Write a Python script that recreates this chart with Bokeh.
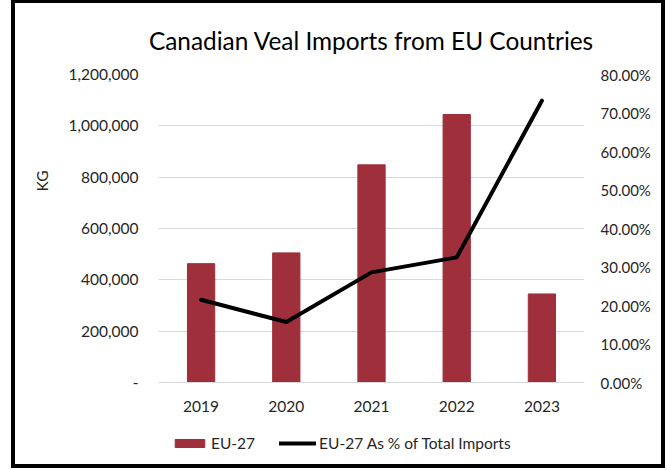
from bokeh.plotting import figure
from bokeh.models import (ColumnDataSource, Range1d, LinearAxis, Legend, LegendItem, Title,
                          NumeralTickFormatter, CustomJSTickFormatter, FixedTicker)
from bokeh.embed import file_html
from bokeh.resources import INLINE

years = ["2019", "2020", "2021", "2022", "2023"]
eu27_kg = [463000, 505000, 848000, 1044000, 345000]
eu27_pct = [0.215, 0.157, 0.286, 0.325, 0.732]

left_ticks = [0, 200000, 400000, 600000, 800000, 1000000, 1200000]
right_ticks = [0.0, 0.1, 0.2, 0.3, 0.4, 0.5, 0.6, 0.7, 0.8]

FONT = "Lato"
TXT = "#262626"

# frame: 308 px for the value area, 80 px below zero for category labels + legend
PLOT_PX, BELOW_PX = 308, 80
KG_MAX, PCT_MAX = 1200000, 0.8
frac = BELOW_PX / PLOT_PX

src = ColumnDataSource(dict(year=years, kg=eu27_kg, pct=eu27_pct))

p = figure(x_range=years, y_range=Range1d(-KG_MAX * frac, KG_MAX),
           frame_width=426, frame_height=PLOT_PX + BELOW_PX,
           output_backend="svg", toolbar_location=None,
           min_border_left=143, min_border_right=77, min_border_top=71, min_border_bottom=2)
p.styles = {"border": "4px solid black", "border-top-width": "3px",
            "margin-left": "11px", "margin-top": "0px"}
p.outline_line_color = None
p.background_fill_color = "white"
p.border_fill_color = "white"

p.title.text = "Canadian Veal Imports from EU Countries"
p.title.align = "center"
p.title.text_font = FONT
p.title.text_font_size = "24.4px"
p.title.text_font_style = "normal"
p.title.text_color = "black"
p.title.standoff = 40

p.extra_y_ranges = {"pct": Range1d(-PCT_MAX * frac, PCT_MAX)}

bars = p.vbar(x="year", top="kg", width=0.32, source=src, fill_color="#9e2f3b",
              line_color="#9e2f3b")
ln = p.line(x="year", y="pct", source=src, y_range_name="pct", line_color="black",
            line_width=4, line_join="round", line_cap="round")

# left axis
la = p.yaxis[0]
la.ticker = FixedTicker(ticks=left_ticks)
la.formatter = CustomJSTickFormatter(code="""
if (tick == 0) { return '-'; }
return tick.toLocaleString('en-US');
""")
la.axis_line_color = None
la.major_tick_line_color = None
la.minor_tick_line_color = None
la.major_tick_out = 0
la.minor_tick_out = 0
la.major_label_text_font = FONT
la.major_label_text_font_size = "15.5px"
la.major_label_text_color = TXT
la.major_label_standoff = 20

kg_title = Title(text="KG", align="right", offset=96, standoff=29,
                 text_font=FONT, text_font_size="15.5px", text_font_style="normal",
                 text_color=TXT)
p.add_layout(kg_title, "left")

ra = LinearAxis(y_range_name="pct", ticker=FixedTicker(ticks=right_ticks),
                formatter=NumeralTickFormatter(format="0.00%"))
ra.axis_line_color = None
ra.major_tick_line_color = None
ra.minor_tick_line_color = None
ra.major_tick_out = 0
ra.minor_tick_out = 0
ra.major_label_text_font = FONT
ra.major_label_text_font_size = "15px"
ra.major_label_text_color = TXT
ra.major_label_standoff = 16
p.add_layout(ra, "right")

xa = p.xaxis[0]
xa.fixed_location = 0
xa.axis_line_color = "#d9d9d9"
xa.major_tick_line_color = None
xa.minor_tick_line_color = None
xa.major_tick_out = 0
xa.minor_tick_out = 0
xa.major_label_text_font = FONT
xa.major_label_text_font_size = "15.5px"
xa.major_label_text_color = TXT
xa.major_label_standoff = 18

p.xgrid.grid_line_color = None
p.ygrid.grid_line_color = "#d9d9d9"
p.ygrid.grid_line_width = 1
p.ygrid.ticker = FixedTicker(ticks=left_ticks)

legend = Legend(items=[LegendItem(label="EU-27", renderers=[bars]),
                       LegendItem(label="EU-27 As % of Total Imports", renderers=[ln])],
                orientation="horizontal", location=(13, 10))
legend.label_text_font = FONT
legend.label_text_font_size = "15.5px"
legend.label_text_color = TXT
legend.glyph_width = 37
legend.glyph_height = 10
legend.label_standoff = 3
legend.spacing = 24
legend.border_line_color = None
legend.background_fill_alpha = 0
legend.padding = 0
legend.margin = 0
p.add_layout(legend)

open("out.html", "w").write(file_html(p, INLINE))
